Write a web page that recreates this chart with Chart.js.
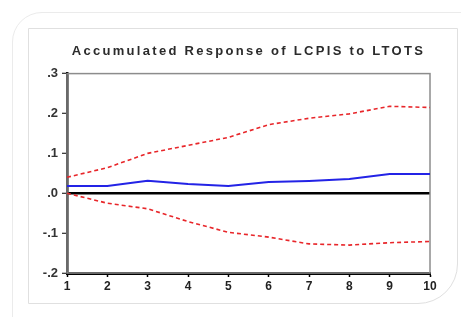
<!DOCTYPE html>
<html>
<head>
<meta charset="utf-8">
<script src="https://cdn.jsdelivr.net/npm/chart.js@4/dist/chart.umd.min.js"></script>
<style>
    html, body { margin: 0; padding: 0; background: #fff; }
    #wrap { position: relative; width: 461px; height: 317px; overflow: hidden; }
    .outer { position: absolute; left: 12px; top: 12px; width: 480px; height: 330px;
             border: 1px solid #ebebeb; border-top-left-radius: 30px; }
    .inner { position: absolute; left: 28px; top: 28px; width: 428px; height: 274px;
             border: 1px solid #e0e0e0; border-bottom-right-radius: 40px; }
    canvas { position: absolute; left: 0; top: 0; }
</style>
</head>
<body>
<div id="wrap">
    <div class="outer"></div>
    <div class="inner"></div>
    <canvas id="chart" width="461" height="317"></canvas>
</div>
<script>
// Periods and accumulated response values
const periods = ['1', '2', '3', '4', '5', '6', '7', '8', '9', '10'];
const response = [0.018, 0.018, 0.031, 0.023, 0.018, 0.028, 0.031, 0.036, 0.048, 0.048];
const upperBand = [0.040, 0.064, 0.100, 0.120, 0.140, 0.172, 0.188, 0.199, 0.218, 0.215];
const lowerBand = [0.000, -0.025, -0.039, -0.071, -0.098, -0.110, -0.127, -0.130, -0.124, -0.121];
const yTickLabels = ['-.2', '-.1', '.0', '.1', '.2', '.3'];

// Gray frame round the plot area
const framePlugin = {
    id: 'frame',
    beforeDatasetsDraw(chart) {
        const { ctx, chartArea } = chart;
        ctx.save();
        ctx.strokeStyle = '#8c8c8c';
        ctx.lineWidth = 1.5;
        ctx.strokeRect(chartArea.left, chartArea.top, chartArea.right - chartArea.left, chartArea.bottom - chartArea.top);
        ctx.restore();
    }
};

// Wide-spaced title text only (tick labels are drawn later, at z 1)
const spacingPlugin = {
    id: 'spacing',
    beforeDraw(chart) { chart.ctx.letterSpacing = '2.3px'; },
    beforeDatasetsDraw(chart) { chart.ctx.letterSpacing = '0px'; }
};

const ctx = document.getElementById('chart');
new Chart(ctx, {
    type: 'line',
    data: {
        labels: periods,
        datasets: [
            {
                data: upperBand,
                borderColor: '#e8262a',
                borderWidth: 1.6,
                borderDash: [4, 3],
                pointRadius: 0,
                tension: 0
            },
            {
                data: response,
                borderColor: '#2323e6',
                borderWidth: 2,
                pointRadius: 0,
                tension: 0
            },
            {
                data: lowerBand,
                borderColor: '#e8262a',
                borderWidth: 1.6,
                borderDash: [4, 3],
                pointRadius: 0,
                tension: 0
            }
        ]
    },
    options: {
        responsive: false,
        animation: false,
        layout: { padding: { top: 0, right: 31, bottom: 0, left: 0 } },
        plugins: {
            legend: { display: false },
            tooltip: { enabled: false },
            title: {
                display: true,
                fullSize: false,
                text: 'Accumulated Response of LCPIS to LTOTS',
                color: '#2b2b2b',
                font: { family: 'Liberation Sans', size: 13, weight: 'bold' },
                padding: { top: 44, bottom: 14 }
            }
        },
        scales: {
            x: {
                offset: false,
                grid: {
                    color: 'transparent',
                    drawOnChartArea: false,
                    tickColor: '#000',
                    tickLength: 4,
                    tickWidth: 1.5
                },
                border: { color: '#000', width: 3 },
                ticks: {
                    z: 1,
                    color: '#222',
                    padding: 2,
                    maxRotation: 0,
                    font: { family: 'Liberation Sans', size: 12, weight: 'bold' }
                },
                afterFit(scale) { scale.height = 44; }
            },
            y: {
                min: -0.2,
                max: 0.3,
                grid: {
                    color: (c) => (c.tick && Math.abs(c.tick.value) < 1e-9 ? '#000' : 'transparent'),
                    lineWidth: 2.5,
                    tickColor: '#000',
                    tickLength: 5,
                    tickWidth: 1
                },
                border: { color: '#000', width: 2.5 },
                ticks: {
                    z: 1,
                    stepSize: 0.1,
                    color: '#333',
                    padding: 4,
                    font: { family: 'Liberation Sans', size: 13, weight: 'bold' },
                    callback: (v, i) => yTickLabels[i]
                },
                afterFit(scale) { scale.width = 67; }
            }
        }
    },
    plugins: [framePlugin, spacingPlugin]
});
</script>
</body>
</html>
